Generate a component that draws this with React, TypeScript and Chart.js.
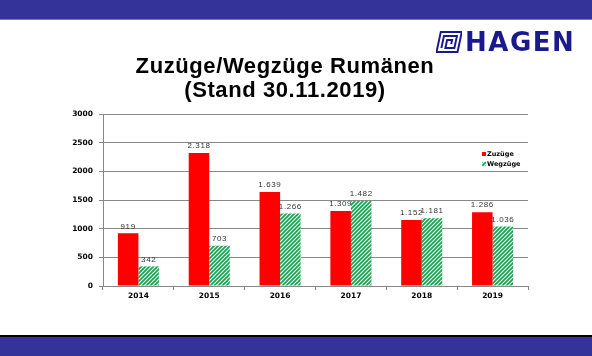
import React, { useEffect, useRef } from "react";
import { Chart, registerables } from "chart.js";

Chart.register(...registerables);

const categories = ["2014", "2015", "2016", "2017", "2018", "2019"];
const zuzuege = [919, 2318, 1639, 1309, 1152, 1286];
const wegzuege = [342, 703, 1266, 1482, 1181, 1036];
const seriesLabels = ["Zuzüge", "Wegzüge"];
const yTicks = [0, 500, 1000, 1500, 2000, 2500, 3000];

const RED = "#ff0000";
const GREEN = "#11a14a";

function makeHatch(): CanvasPattern | string {
  const c = document.createElement("canvas");
  c.width = 4;
  c.height = 4;
  const g = c.getContext("2d");
  if (!g) return GREEN;
  g.fillStyle = "#ffffff";
  g.fillRect(0, 0, 4, 4);
  g.strokeStyle = GREEN;
  g.lineWidth = 1.6;
  g.beginPath();
  g.moveTo(-1, 5);
  g.lineTo(5, -1);
  g.moveTo(-1, 1);
  g.lineTo(1, -1);
  g.moveTo(3, 5);
  g.lineTo(5, 3);
  g.stroke();
  const p = g.createPattern(c, "repeat");
  return p || GREEN;
}

function fmtDe(v: number): string {
  if (v < 1000) return String(v);
  const th = Math.floor(v / 1000);
  const rest = String(v % 1000).padStart(3, "0");
  return th + "." + rest;
}

const valueLabels = {
  id: "valueLabels",
  afterDatasetsDraw(chart: any) {
    const ctx = chart.ctx;
    ctx.save();
    ctx.font = "8px 'Liberation Sans', Arial, sans-serif";
    ctx.fillStyle = "#333333";
    ctx.textAlign = "center";
    ctx.textBaseline = "bottom";
    try { (ctx as any).letterSpacing = "0.6px"; } catch (e) {}
    chart.data.datasets.forEach((ds: any, di: number) => {
      const meta = chart.getDatasetMeta(di);
      meta.data.forEach((el: any, i: number) => {
        ctx.fillText(fmtDe(ds.data[i]), el.x, el.y - 3);
      });
    });
    ctx.restore();
  },
};

const miniLegend = {
  id: "miniLegend",
  afterDraw(chart: any) {
    const ctx = chart.ctx;
    const area = chart.chartArea;
    ctx.save();
    ctx.font = "bold 6.5px 'DejaVu Sans', sans-serif";
    ctx.textBaseline = "middle";
    ctx.textAlign = "left";
    ctx.fillStyle = "#000000";
    const x0 = area.right - 46;
    let y0 = area.top + 40;
    chart.data.datasets.forEach((ds: any) => {
      ctx.fillStyle = ds.backgroundColor;
      ctx.fillRect(x0, y0 - 2, 4, 4);
      ctx.fillStyle = "#000000";
      ctx.fillText(ds.label, x0 + 5, y0);
      y0 += 10;
    });
    ctx.restore();
  },
};

export default function App() {
  const ref = useRef<HTMLCanvasElement | null>(null);

  useEffect(() => {
    if (!ref.current) return;
    const chart = new Chart(ref.current, {
      type: "bar",
      data: {
        labels: categories,
        datasets: [
          {
            label: seriesLabels[0],
            data: zuzuege,
            backgroundColor: RED,
            borderWidth: 0,
            categoryPercentage: 0.58,
            barPercentage: 1.0,
          },
          {
            label: seriesLabels[1],
            data: wegzuege,
            backgroundColor: makeHatch() as any,
            borderWidth: 0,
            categoryPercentage: 0.58,
            barPercentage: 1.0,
          },
        ],
      },
      options: {
        responsive: false,
        animation: false,
        layout: { padding: { left: 0, top: 114, right: 64, bottom: 50 } },
        plugins: {
          legend: { display: false },
          title: { display: false },
          tooltip: { enabled: false },
        },
        scales: {
          x: {
            afterFit: (s: any) => { s.height = 20; },
            grid: {
              offset: true,
              drawOnChartArea: false,
              drawTicks: true,
              tickLength: 4,
              color: "#888888",
            },
            border: { display: true, color: "#888888", width: 1 },
            ticks: {
              color: "#000000",
              padding: 2,
              font: { family: "'DejaVu Sans', sans-serif", size: 7.5, weight: "bold" },
            },
          },
          y: {
            min: 0,
            max: 3000,
            afterFit: (s: any) => { s.width = 103; },
            afterBuildTicks: (s: any) => { s.ticks = yTicks.map((v) => ({ value: v })); },
            grid: { color: "#888888", lineWidth: 1, tickLength: 4, drawTicks: true },
            border: { display: true, color: "#888888", width: 1 },
            ticks: {
              color: "#000000",
              padding: 6,
              callback: (v: any) => String(v),
              font: { family: "'DejaVu Sans', sans-serif", size: 7.5, weight: "bold" },
            },
          },
        },
      },
      plugins: [valueLabels, miniLegend],
    });
    return () => chart.destroy();
  }, []);

  return (
    <div style={{ position: "fixed", left: 0, top: 0, width: 592, height: 356, background: "#ffffff", overflow: "hidden" }}>
      <div style={{ position: "absolute", left: 0, top: 0, width: 592, height: 19, background: "#333399" }} />
      <div style={{ position: "absolute", left: 0, top: 19, width: 592, height: 1, background: "#808080" }} />
      <div style={{ position: "absolute", left: 0, top: 335, width: 592, height: 2, background: "#000000" }} />
      <div style={{ position: "absolute", left: 0, top: 337, width: 592, height: 19, background: "#333399" }} />
      <canvas ref={ref} width={592} height={356} style={{ position: "absolute", left: 0, top: 0, display: "block" }} />
      <div
        style={{
          position: "absolute",
          left: 0,
          top: 54,
          width: 570,
          textAlign: "center",
          fontFamily: "'Liberation Sans', Arial, sans-serif",
          fontWeight: "bold",
          fontSize: 22,
          letterSpacing: 0.6,
          lineHeight: "24px",
          color: "#000000",
        }}
      >
        Zuzüge/Wegzüge Rumänen
        <br />
        (Stand 30.11.2019)
      </div>
      <div style={{ position: "absolute", left: 436, top: 29, height: 26, display: "flex", alignItems: "center" }}>
        <svg width="26" height="22" viewBox="0 0 26 22" style={{ marginRight: 3 }}>
          <g transform="skewX(-12) translate(4,0)" fill="none" stroke="#1a1a8c" strokeWidth="2">
            <rect x="1" y="1" width="21" height="20" />
            <path d="M5 17 V5 H18 V17 H9 V9 H14 V13" />
          </g>
        </svg>
        <span
          style={{
            fontFamily: "'DejaVu Sans', sans-serif",
            fontWeight: "bold",
            fontSize: 26,
            letterSpacing: 1.5,
            color: "#1a1a8c",
            lineHeight: "26px",
          }}
        >
          HAGEN
        </span>
      </div>
    </div>
  );
}
